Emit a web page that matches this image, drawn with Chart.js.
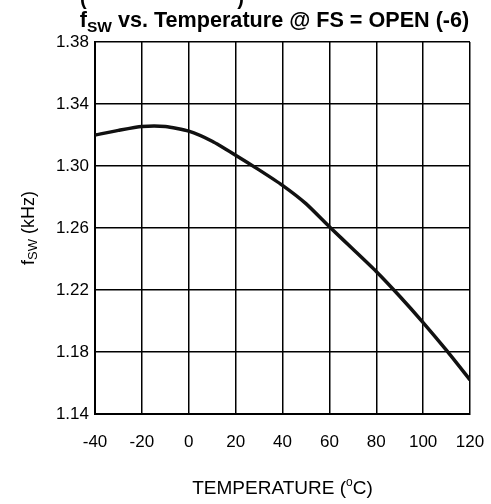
<!DOCTYPE html>
<html>
<head>
<meta charset="utf-8">
<script src="https://cdn.jsdelivr.net/npm/chart.js@4"></script>
<style>
  html, body { margin: 0; padding: 0; background: #fff; }
  #wrap { width: 491px; height: 504px; }
</style>
</head>
<body>
<div id="wrap"><canvas id="fswChart" width="491" height="504"></canvas></div>
<script>
const temps = [-40, -30, -20, -10, 0, 10, 20, 30, 40, 50, 60, 70, 80, 90, 100, 110, 120];
const fswValues = [1.320, 1.323, 1.3255, 1.3255, 1.3225, 1.316, 1.307, 1.2975, 1.2875, 1.2757, 1.2608, 1.2465, 1.232, 1.216, 1.199, 1.181, 1.162];
const xTicks = [-40, -20, 0, 20, 40, 60, 80, 100, 120];
const yTicks = [1.14, 1.18, 1.22, 1.26, 1.30, 1.34, 1.38];

const fontFamily = '"Liberation Sans", Arial, sans-serif';
const ink = "#000";

// title + axis titles need sub/superscripts, so draw them by hand
const labelPlugin = {
  id: "labels",
  afterDraw(chart) {
    const ctx = chart.ctx;
    const area = chart.chartArea;
    ctx.save();
    ctx.fillStyle = ink;
    ctx.textBaseline = "alphabetic";

    // clipped remnant of the line above the title
    ctx.font = "bold 20px " + fontFamily;
    ctx.textAlign = "left";
    ctx.fillText("(", 80, 5);
    ctx.textAlign = "right";
    ctx.fillText(")", 244, 5);

    // title
    ctx.textAlign = "left";
    const big = "bold 21.6px " + fontFamily;
    const small = "bold 15.5px " + fontFamily;
    const rest = " vs. Temperature @ FS = OPEN (-6)";
    ctx.font = big;
    const wF = ctx.measureText("f").width;
    const wRest = ctx.measureText(rest).width;
    ctx.font = small;
    const wSub = ctx.measureText("SW").width;
    let x = 274.5 - (wF + wSub + wRest) / 2;
    ctx.font = big;
    ctx.fillText("f", x, 27);
    x += wF;
    ctx.font = small;
    ctx.fillText("SW", x, 32);
    x += wSub;
    ctx.font = big;
    ctx.fillText(rest, x, 27);

    // y axis title
    const yBig = "18px " + fontFamily;
    const ySmall = "13px " + fontFamily;
    ctx.font = yBig;
    const yF = ctx.measureText("f").width;
    const yRest = ctx.measureText(" (kHz)").width;
    ctx.font = ySmall;
    const ySub = ctx.measureText("SW").width;
    ctx.translate(34, (area.top + area.bottom) / 2);
    ctx.rotate(-Math.PI / 2);
    let yx = -(yF + ySub + yRest) / 2;
    ctx.font = yBig;
    ctx.fillText("f", yx, 0);
    yx += yF;
    ctx.font = ySmall;
    ctx.fillText("SW", yx, 3);
    yx += ySub;
    ctx.font = yBig;
    ctx.fillText(" (kHz)", yx, 0);
    ctx.setTransform(1, 0, 0, 1, 0, 0);
    ctx.scale(chart.currentDevicePixelRatio, chart.currentDevicePixelRatio);

    // x axis title
    const xBig = "19px " + fontFamily;
    const xSmall = "12px " + fontFamily;
    ctx.font = xBig;
    const a = ctx.measureText("TEMPERATURE (").width;
    const c = ctx.measureText("C)").width;
    ctx.font = xSmall;
    const o = ctx.measureText("o").width;
    let tx = (area.left + area.right) / 2 - (a + o + c) / 2;
    ctx.font = xBig;
    ctx.fillText("TEMPERATURE (", tx, 494);
    tx += a;
    ctx.font = xSmall;
    ctx.fillText("o", tx, 486);
    tx += o;
    ctx.font = xBig;
    ctx.fillText("C)", tx, 494);
    ctx.restore();
  }
};

new Chart(document.getElementById("fswChart"), {
  type: "line",
  data: {
    datasets: [{
      data: temps.map((t, i) => ({ x: t, y: fswValues[i] })),
      borderColor: "#111",
      borderWidth: 3.5,
      pointRadius: 0,
      tension: 0.2,
      fill: false
    }]
  },
  options: {
    responsive: false,
    animation: false,
    layout: { padding: { left: 0, right: 21, top: 42, bottom: 0 } },
    plugins: {
      legend: { display: false },
      tooltip: { enabled: false }
    },
    scales: {
      x: {
        type: "linear",
        min: -40,
        max: 120,
        afterBuildTicks: s => { s.ticks = xTicks.map(v => ({ value: v })); },
        afterFit: s => { s.height = 90; s.paddingLeft = 0; s.paddingRight = 0; },
        grid: { color: ink, lineWidth: 1.5, drawTicks: false },
        border: { color: ink, width: 2 },
        ticks: {
          color: ink,
          padding: 18,
          font: { family: fontFamily, size: 17 },
          callback: v => String(v)
        }
      },
      y: {
        min: 1.14,
        max: 1.38,
        afterBuildTicks: s => { s.ticks = yTicks.map(v => ({ value: v })); },
        afterFit: s => { s.width = 95; s.paddingTop = 0; s.paddingBottom = 0; },
        grid: { color: ink, lineWidth: 1.5, drawTicks: false },
        border: { color: ink, width: 2 },
        ticks: {
          color: ink,
          padding: 6,
          font: { family: fontFamily, size: 17 },
          callback: v => Number(v).toFixed(2)
        }
      }
    }
  },
  plugins: [labelPlugin]
});
</script>
</body>
</html>
